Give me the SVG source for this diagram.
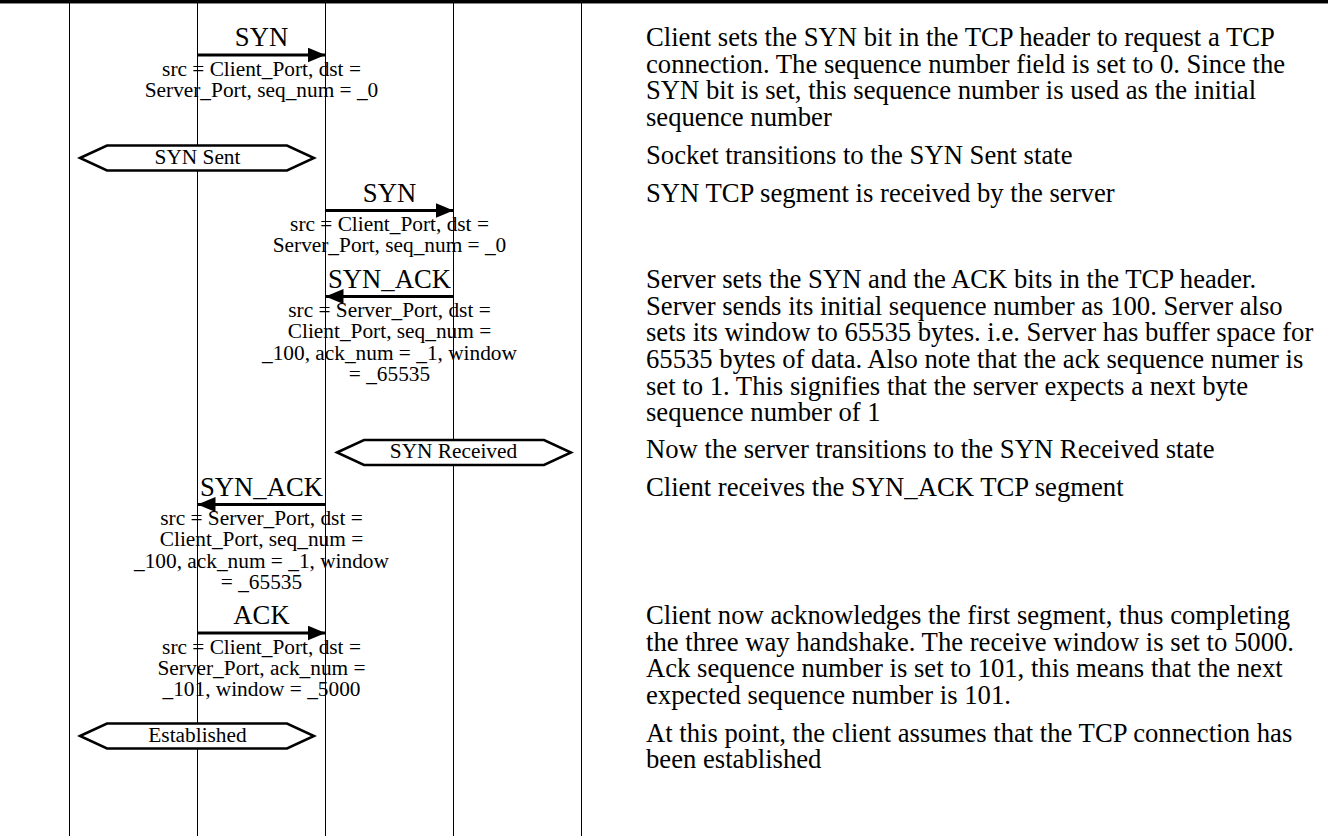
<svg xmlns="http://www.w3.org/2000/svg" width="1328" height="836" viewBox="0 0 1328 836">
<style>
.ll{stroke:#000;stroke-width:1;fill:none}
.msg{stroke:#000;stroke-width:3;fill:none}
.lbl{font-family:"Liberation Serif","Times New Roman",serif;font-size:26.67px;fill:#000;text-anchor:middle}
.prm{font-family:"Liberation Serif","Times New Roman",serif;font-size:21.33px;fill:#000;text-anchor:middle}
.st{fill:#fff;stroke:#000;stroke-width:2.5}
.stt{font-family:"Liberation Serif","Times New Roman",serif;font-size:21.33px;fill:#000;text-anchor:middle}
.rem{font-family:"Liberation Serif","Times New Roman",serif;font-size:26.67px;fill:#000}
</style>
<defs>
<marker id="ah" markerWidth="6" markerHeight="5" refX="6" refY="2.5" orient="auto" markerUnits="strokeWidth">
<path d="M0,0 L6,2.5 L0,5 Z" fill="#000"/>
</marker>
</defs>
<rect width="1328" height="836" fill="#fff"/>
<g id="frame">
<rect x="0" y="0" width="1328" height="3" fill="#000"/>
<line x1="0" y1="3.5" x2="1328" y2="3.5" stroke="#888" stroke-width="1"/>
</g>
<g id="lifelines">
<line class="ll" x1="69.5" y1="3" x2="69.5" y2="836"/>
<line class="ll" x1="197.5" y1="3" x2="197.5" y2="836"/>
<line class="ll" x1="325.5" y1="3" x2="325.5" y2="836"/>
<line class="ll" x1="453.5" y1="3" x2="453.5" y2="836"/>
<line class="ll" x1="581.5" y1="3" x2="581.5" y2="836"/>
</g>
<g id="connectors">
<g id="m1">
<line class="msg" x1="197.5" y1="55" x2="325.5" y2="55" marker-end="url(#ah)"/>
<text class="lbl" x="261.5" y="45.5">SYN</text>
<text class="prm" x="261.5" y="76">src = Client_Port, dst =</text>
<text class="prm" x="261.5" y="97.3">Server_Port, seq_num = _0</text>
</g>
<g id="m2">
<line class="msg" x1="325.5" y1="210.5" x2="453.5" y2="210.5" marker-end="url(#ah)"/>
<text class="lbl" x="389.5" y="202">SYN</text>
<text class="prm" x="389.5" y="231">src = Client_Port, dst =</text>
<text class="prm" x="389.5" y="252.3">Server_Port, seq_num = _0</text>
</g>
<g id="m3">
<line class="msg" x1="453.5" y1="296.5" x2="325.5" y2="296.5" marker-end="url(#ah)"/>
<text class="lbl" x="389.5" y="288">SYN_ACK</text>
<text class="prm" x="389.5" y="317">src = Server_Port, dst =</text>
<text class="prm" x="389.5" y="338.3">Client_Port, seq_num =</text>
<text class="prm" x="389.5" y="359.7">_100, ack_num = _1, window</text>
<text class="prm" x="389.5" y="381">= _65535</text>
</g>
<g id="m4">
<line class="msg" x1="325.5" y1="504.5" x2="197.5" y2="504.5" marker-end="url(#ah)"/>
<text class="lbl" x="261.5" y="496">SYN_ACK</text>
<text class="prm" x="261.5" y="525">src = Server_Port, dst =</text>
<text class="prm" x="261.5" y="546.3">Client_Port, seq_num =</text>
<text class="prm" x="261.5" y="567.7">_100, ack_num = _1, window</text>
<text class="prm" x="261.5" y="589">= _65535</text>
</g>
<g id="m5">
<line class="msg" x1="197.5" y1="633" x2="325.5" y2="633" marker-end="url(#ah)"/>
<text class="lbl" x="261.5" y="624">ACK</text>
<text class="prm" x="261.5" y="653.5">src = Client_Port, dst =</text>
<text class="prm" x="261.5" y="674.8">Server_Port, ack_num =</text>
<text class="prm" x="261.5" y="696.2">_101, window = _5000</text>
</g>
</g>
<g id="state-syn-sent">
<polygon class="st" points="80,158 107,145.5 287,145.5 314,158 287,170.5 107,170.5"/>
<text class="stt" x="197.5" y="163.5">SYN Sent</text>
</g>
<g id="state-syn-received">
<polygon class="st" points="337,452.5 364,440 544,440 571,452.5 544,465 364,465"/>
<text class="stt" x="453.5" y="458">SYN Received</text>
</g>
<g id="state-established">
<polygon class="st" points="80,736 107,723.5 287,723.5 314,736 287,748.5 107,748.5"/>
<text class="stt" x="197.5" y="741.5">Established</text>
</g>
<g id="note-1">
<text class="rem" x="646" y="46"><tspan x="646" dy="0">Client sets the SYN bit in the TCP header to request a TCP</tspan><tspan x="646" dy="26.67">connection. The sequence number field is set to 0. Since the</tspan><tspan x="646" dy="26.67">SYN bit is set, this sequence number is used as the initial</tspan><tspan x="646" dy="26.67">sequence number</tspan></text>
</g>
<g id="note-2">
<text class="rem" x="646" y="163.5">Socket transitions to the SYN Sent state</text>
</g>
<g id="note-3">
<text class="rem" x="646" y="202">SYN TCP segment is received by the server</text>
</g>
<g id="note-4">
<text class="rem" x="646" y="288"><tspan x="646" dy="0">Server sets the SYN and the ACK bits in the TCP header.</tspan><tspan x="646" dy="26.67">Server sends its initial sequence number as 100. Server also</tspan><tspan x="646" dy="26.67">sets its window to 65535 bytes. i.e. Server has buffer space for</tspan><tspan x="646" dy="26.67">65535 bytes of data. Also note that the ack sequence numer is</tspan><tspan x="646" dy="26.67">set to 1. This signifies that the server expects a next byte</tspan><tspan x="646" dy="26.67">sequence number of 1</tspan></text>
</g>
<g id="note-5">
<text class="rem" x="646" y="458">Now the server transitions to the SYN Received state</text>
</g>
<g id="note-6">
<text class="rem" x="646" y="496">Client receives the SYN_ACK TCP segment</text>
</g>
<g id="note-7">
<text class="rem" x="646" y="624"><tspan x="646" dy="0">Client now acknowledges the first segment, thus completing</tspan><tspan x="646" dy="26.67">the three way handshake. The receive window is set to 5000.</tspan><tspan x="646" dy="26.67">Ack sequence number is set to 101, this means that the next</tspan><tspan x="646" dy="26.67">expected sequence number is 101.</tspan></text>
</g>
<g id="note-8">
<text class="rem" x="646" y="741.5"><tspan x="646" dy="0">At this point, the client assumes that the TCP connection has</tspan><tspan x="646" dy="26.67">been established</tspan></text>
</g>
</svg>
